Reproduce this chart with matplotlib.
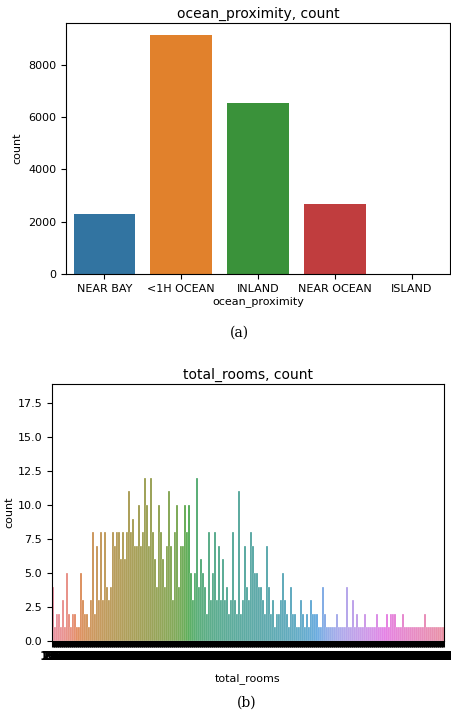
import matplotlib
matplotlib.use('Agg')
import numpy as np
import seaborn as sns
from matplotlib import pyplot as plt

# (a) ocean_proximity counts
proximity = ['NEAR BAY', '<1H OCEAN', 'INLAND', 'NEAR OCEAN', 'ISLAND']
proximity_count = [2290, 9136, 6551, 2658, 5]

# (b) total_rooms counts left to right
room_count = [
    4, 1, 2, 2, 1, 3, 1, 5, 2, 1, 2, 2, 1, 1, 5, 3, 2, 2, 1, 3, 8, 2, 7, 3, 8, 3, 8, 4, 3, 4, 8, 7, 8,
    8, 6, 8, 6, 8, 11, 8, 9, 7, 7, 10, 7, 8, 12, 10, 7, 12, 8, 6, 4, 10, 8, 6, 4, 7, 11, 7, 3, 8, 10, 4, 7, 7,
    10, 8, 10, 5, 3, 5, 12, 4, 6, 5, 4, 2, 8, 3, 5, 8, 3, 7, 3, 6, 3, 4, 2, 3, 8, 3, 2, 11, 2, 3, 7, 4, 3,
    8, 7, 5, 5, 4, 4, 3, 2, 7, 4, 2, 3, 1, 2, 2, 3, 5, 3, 2, 1, 4, 2, 2, 1, 1, 3, 2, 1, 2, 1, 3, 2, 2,
    2, 1, 1, 4, 2, 1, 1, 1, 1, 1, 2, 1, 1, 1, 1, 4, 1, 1, 3, 1, 2, 1, 1, 1, 2, 1, 1, 1, 1, 1, 2, 1, 1,
    1, 1, 2, 1, 2, 2, 2, 1, 1, 1, 2, 1, 1, 1, 1, 1, 1, 1, 1, 1, 1, 2, 1, 1, 1, 1, 1, 1, 1, 1, 1,
]
total_rooms = [
    2, 11, 18, 24, 32, 41, 50, 58, 67, 76, 85, 94, 104, 113, 122, 132, 142, 151, 161, 171,
    181, 192, 203, 214, 225, 237, 249, 261, 273, 286, 299, 312, 326,
    340, 355, 370, 386, 402, 418, 435, 452, 470, 488, 506, 525, 545, 565, 585, 606, 627, 649,
    671, 694, 717, 741, 765, 790, 815, 841, 867, 894, 921, 949, 977, 1006, 1035,
    1065, 1095, 1126, 1157, 1189, 1221, 1254, 1287, 1321, 1355, 1390, 1425, 1461, 1497, 1534,
    1571, 1609, 1647, 1686, 1725, 1765, 1805, 1846, 1887, 1929, 1971, 2014, 2057, 2101, 2145,
    2190, 2235, 2281,
    2327, 2374, 2421, 2469, 2517, 2566, 2615, 2665, 2715, 2766, 2817, 2869, 2921, 2974, 3027,
    3081, 3135, 3190, 3245, 3301, 3357, 3414, 3471, 3529, 3587, 3646, 3705, 3765, 3825, 3886,
    3947, 4009, 4071,
    4134, 4197, 4261, 4325, 4390, 4455, 4521, 4587, 4654, 4721, 4789, 4857, 4926, 4995, 5065,
    5135, 5206, 5277, 5349, 5421, 5494, 5567, 5641, 5716, 5792, 5869, 5947, 6026, 6106, 6187,
    6269, 6352, 6436,
    6521, 6607, 6694, 6782, 6871, 6961, 7052, 7144, 7237, 7331, 7426, 7522, 7619, 7717, 7816,
    7916, 8017, 8152, 8320, 8512, 8730, 8985, 9272, 9611, 10036, 10592, 11265, 12127, 13383,
    18634, 39320,
]

W, H = 451, 714
fig = plt.figure(figsize=(W / 100, H / 100), dpi=100)


def box(left, top, right, bottom):
    # pixel box -> figure fraction
    return [left / W, 1 - bottom / H, (right - left) / W, (bottom - top) / H]


fs = 8

# --- (a) ---
ax1 = fig.add_axes(box(66, 23, 450, 274))
cols1 = [sns.desaturate(c, 0.75) for c in sns.color_palette('tab10', len(proximity))]
x1 = np.arange(len(proximity))
ax1.bar(x1, proximity_count, width=0.8, color=cols1)
ax1.set_xticks(x1)
ax1.set_xticklabels(proximity, fontsize=fs)
ax1.tick_params(axis='y', labelsize=fs)
ax1.set_xlim(-0.5, len(proximity) - 0.5)
ax1.set_ylim(0, max(proximity_count) * 1.05)
ax1.set_xlabel('ocean_proximity', fontsize=fs, labelpad=2)
ax1.set_ylabel('count', fontsize=fs)
ax1.set_title('ocean_proximity, count', fontsize=10, pad=4)
fig.text(239 / W, 1 - 333 / H, '(a)', family='DejaVu Serif', fontsize=10,
         ha='center', va='center')

# --- (b) ---
ax2 = fig.add_axes(box(52, 384, 444, 641))
n = len(room_count)
cols2 = [sns.desaturate(c, 0.75) for c in sns.color_palette('husl', n)]
x2 = np.arange(n)
# thin white outlines give the pale, slit look of the crowded original
ax2.bar(x2, room_count, width=0.8, color=cols2, edgecolor='white', linewidth=0.2)
ax2.set_xticks(x2)
ax2.set_xticklabels([f'{v:.1f}' for v in total_rooms], fontsize=9, fontweight='bold')
ax2.tick_params(axis='x', width=2.2, length=4.5, pad=2)
ax2.tick_params(axis='y', labelsize=fs)
ax2.set_xlim(-0.5, n - 0.5)
ax2.set_ylim(0, 18.9)
ax2.set_yticks(np.arange(0, 18, 2.5))
ax2.set_xlabel('total_rooms', fontsize=fs, labelpad=7)
ax2.set_ylabel('count', fontsize=fs, labelpad=2)
ax2.set_title('total_rooms, count', fontsize=10, pad=4)
fig.text(247 / W, 1 - 703 / H, '(b)', family='DejaVu Serif', fontsize=10,
         ha='center', va='center')

fig.savefig('out.png', dpi=100)
